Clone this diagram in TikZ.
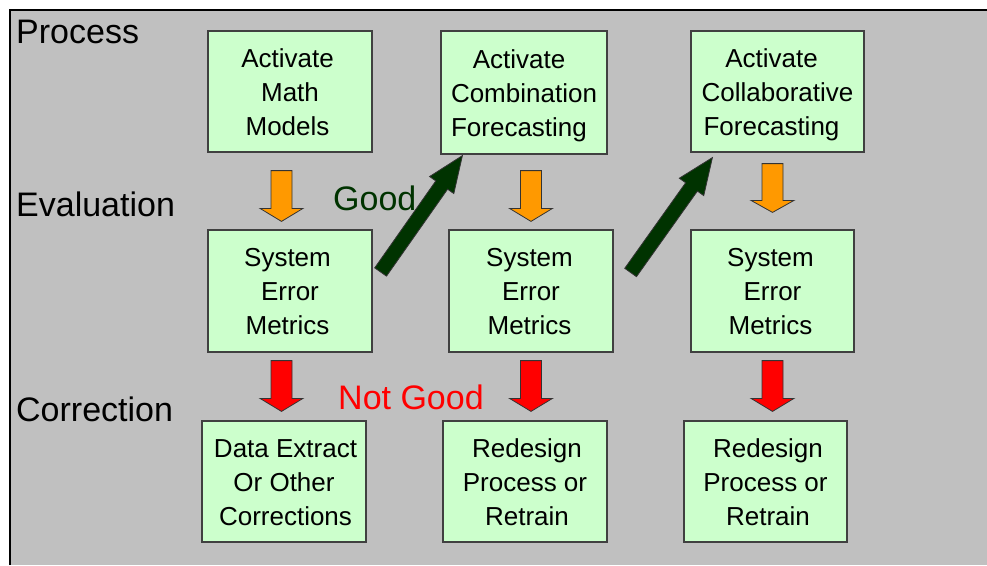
\documentclass[tikz,border=0pt]{standalone}
\usepackage{fontspec}
\setmainfont{Liberation Sans}
\usetikzlibrary{calc}

\definecolor{boxfill}{HTML}{CCFFCC}
\definecolor{panel}{HTML}{C0C0C0}
\definecolor{evalorange}{HTML}{FF9900}
\definecolor{goodgreen}{HTML}{003300}
\definecolor{badred}{HTML}{FF0000}

% Block arrow: #1 style, #2 tail, #3 tip, #4 shaft half-width,
% #5 head half-width, #6 head length
\newcommand\blockarrow[6]{%
  \coordinate (ba-s) at (#2);
  \coordinate (ba-t) at (#3);
  \coordinate (ba-h) at ($(ba-t)!#6!(ba-s)$);
  \filldraw[#1]
    ($(ba-s)!#4!90:(ba-t)$) -- ($(ba-h)!#4!90:(ba-t)$) --
    ($(ba-h)!#5!90:(ba-t)$) -- (ba-t) --
    ($(ba-h)!#5!-90:(ba-t)$) -- ($(ba-h)!#4!-90:(ba-t)$) --
    ($(ba-s)!#4!-90:(ba-t)$) -- cycle;
}

% Three centred lines of box text: a strut on the first and last line
% fixes the block height; #1 is trailing space that nudges it sideways.
\newcommand\threelines[4][0pt]{%
  \rule{0pt}{25pt}#2\hspace*{#1}\\#3\hspace*{#1}\\\rule[-6pt]{0pt}{6pt}#4\hspace*{#1}}

\begin{document}
\begin{tikzpicture}[x=1pt,y=-1pt,
  stepbox/.style={draw=black!75, line width=1.2pt, fill=boxfill, align=center,
    inner sep=0pt, font=\fontsize{26}{34}\selectfont},
  rowlabel/.style={anchor=base west, inner sep=0pt, font=\fontsize{34}{40}\selectfont},
  evalarrow/.style={fill=evalorange, draw=black!80, line width=0.8pt},
  goodarrow/.style={fill=goodgreen, draw=black!80, line width=0.8pt},
  badarrow/.style={fill=badred, draw=black!80, line width=0.8pt}]

\useasboundingbox (0,0) rectangle (987,565);
\fill[white] (0,0) rectangle (987,565);
\fill[panel] (10,10) rectangle (987,565);
\draw[line width=2pt] (10,565) -- (10,10) -- (987,10);

% row labels
\node[rowlabel] (lproc) at (16,43) {Process};
\node[rowlabel] (leval) at (16,216) {Evaluation};
\node[rowlabel] (lcorr) at (16,421) {Correction};

% process row
\node[stepbox, minimum width=164pt, minimum height=121pt] (a1) at (290,91.5)
  {\threelines[5pt]{Activate}{Math}{Models}};
\node[stepbox, minimum width=166pt, minimum height=123pt] (a2) at (524,92.5)
  {\threelines[10pt]{Activate}{Combination}{Forecasting}};
\node[stepbox, minimum width=173pt, minimum height=121pt] (a3) at (777.5,91.5)
  {\threelines[12pt]{Activate}{Collaborative}{Forecasting}};

% evaluation row
\node[stepbox, minimum width=164pt, minimum height=122pt] (b1) at (290,291)
  {\threelines[5pt]{System}{Error}{Metrics}};
\node[stepbox, minimum width=164pt, minimum height=122pt] (b2) at (531,291)
  {\threelines[3pt]{System}{Error}{Metrics}};
\node[stepbox, minimum width=163pt, minimum height=122pt] (b3) at (772.5,291)
  {\threelines[4pt]{System}{Error}{Metrics}};

% correction row
\node[stepbox, minimum width=164pt, minimum height=121pt] (c1) at (284,481.5)
  {\threelines[-3pt]{Data Extract}{Or Other}{Corrections}};
\node[stepbox, minimum width=164pt, minimum height=121pt] (c2) at (525,481.5)
  {\threelines[-4pt]{Redesign}{Process or}{Retrain}};
\node[stepbox, minimum width=163pt, minimum height=121pt] (c3) at (765.5,481.5)
  {\threelines[-5pt]{Redesign}{Process or}{Retrain}};

% outcome labels
\node[rowlabel, text=goodgreen] (good) at (333,210) {Good};
\node[rowlabel, text=badred] (notgood) at (338,409) {Not Good};

% process -> evaluation
\blockarrow{evalarrow}{[xshift=-8.5pt,yshift=-18pt]a1.south}{[xshift=-8.5pt,yshift=8pt]b1.north}{10.5pt}{21.5pt}{13pt}
\blockarrow{evalarrow}{[xshift=7pt,yshift=-16pt]a2.south}{[yshift=8pt]b2.north}{10.5pt}{21.5pt}{13pt}
\blockarrow{evalarrow}{[xshift=-5pt,yshift=-11pt]a3.south}{[yshift=17pt]b3.north}{10.5pt}{21.5pt}{12pt}

% evaluation -> next process (good)
\blockarrow{goodarrow}{[xshift=8pt,yshift=19pt]b1.east}{[xshift=22pt,yshift=-1pt]a2.south west}{7.2pt}{14.8pt}{36pt}
\blockarrow{goodarrow}{[xshift=17pt,yshift=18.5pt]b2.east}{[xshift=22pt,yshift=-5pt]a3.south west}{7.2pt}{15pt}{36pt}

% evaluation -> correction (not good)
\blockarrow{badarrow}{[xshift=-8.5pt,yshift=-8pt]b1.south}{[xshift=-2.5pt,yshift=9pt]c1.north}{10.5pt}{21.5pt}{13pt}
\blockarrow{badarrow}{[yshift=-8pt]b2.south}{[xshift=6pt,yshift=9pt]c2.north}{10.5pt}{21.5pt}{13pt}
\blockarrow{badarrow}{[yshift=-8pt]b3.south}{[xshift=7pt,yshift=9pt]c3.north}{10.5pt}{21.5pt}{13pt}

\end{tikzpicture}
\end{document}
